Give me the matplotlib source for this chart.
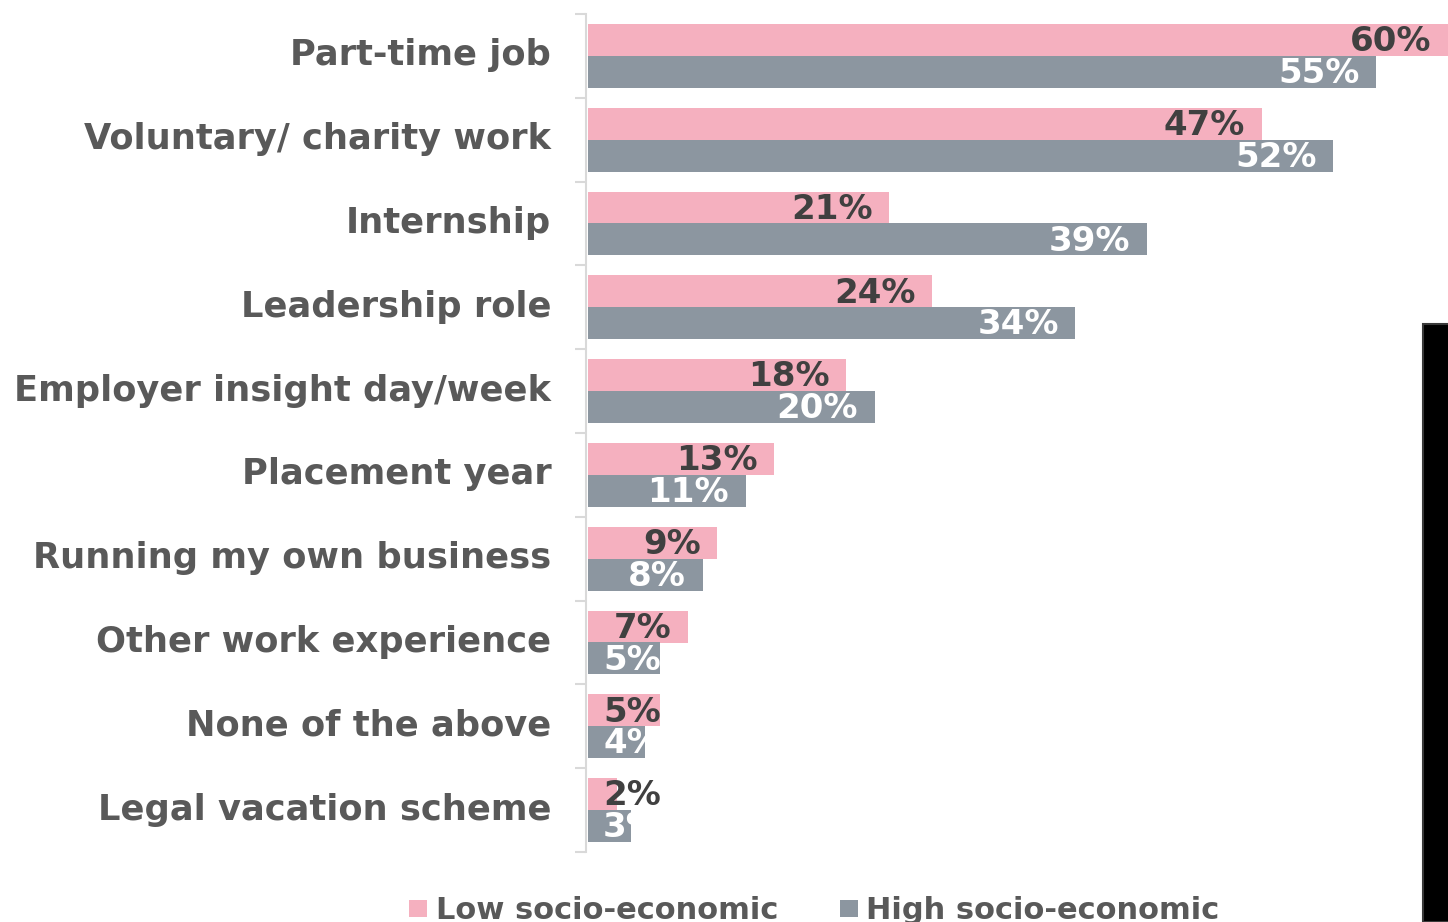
import matplotlib
matplotlib.use("Agg")
import matplotlib.pyplot as plt
from matplotlib.patches import Rectangle
from matplotlib.transforms import ScaledTranslation
import numpy as np

categorias = ["Part-time job", "Voluntary/ charity work", "Internship", "Leadership role",
              "Employer insight day/week", "Placement year", "Running my own business",
              "Other work experience", "None of the above", "Legal vacation scheme"]
baixa = [60, 47, 21, 24, 18, 13, 9, 7, 5, 2]
alta = [55, 52, 39, 34, 20, 11, 8, 5, 4, 3]

corRosa = "#F5B0BF"
corCinza = "#8C96A0"
corTexto = "#595959"
corValor = "#404040"

plt.rcParams["font.family"] = "DejaVu Sans"
plt.rcParams["font.weight"] = "bold"

W, H = 1448, 922
fig = plt.figure(figsize=(W / 100, H / 100), dpi=100)
ax = fig.add_axes([586 / W, (H - 852) / H, (W - 586) / W, (852 - 14) / H])

y = np.arange(len(categorias))
alt = 0.381
ax.barh(y - 0.19, baixa, height=alt, color=corRosa)
ax.barh(y + 0.19, alta, height=alt, color=corCinza)

ax.set_xlim(-0.14, 60.0)
ax.set_ylim(len(categorias) - 0.5, -0.5)

ax.set_yticks(y)
ax.set_yticklabels(categorias, fontsize=25.4, color=corTexto, fontweight="bold")
ax.tick_params(axis="y", which="major", length=0, pad=25)
ax.set_yticks(np.arange(-0.5, len(categorias)), minor=True)
ax.tick_params(axis="y", which="minor", length=8, width=1.5, color="#D9D9D9")
ax.xaxis.set_visible(False)
for lado in ["top", "right", "bottom"]:
    ax.spines[lado].set_visible(False)
ax.spines["left"].set_color("#D9D9D9")
ax.spines["left"].set_linewidth(1.5)

# sobe um pouco os nomes das categorias
desloca = ScaledTranslation(0, 0.04, fig.dpi_scale_trans)
for lbl in ax.get_yticklabels():
    lbl.set_transform(lbl.get_transform() + desloca)

# rótulos de valor: dentro da ponta da barra, mas sem passar do início
textos = []
for i in range(len(categorias)):
    t1 = ax.text(baixa[i] - 1.15, i - 0.17, f"{baixa[i]}%", ha="right", va="center",
                 fontsize=24.5, fontweight="bold", color=corValor)
    t2 = ax.text(alta[i] - 1.15, i + 0.21, f"{alta[i]}%", ha="right", va="center",
                 fontsize=24.5, fontweight="bold", color="white")
    textos.append(t1)
    textos.append(t2)

fig.canvas.draw()
inv = ax.transData.inverted()
for t in textos:
    bb = t.get_window_extent()
    esquerda = inv.transform((bb.x0, bb.y0))[0]
    if esquerda < 1.05:
        t.set_ha("left")
        t.set_x(1.05)

# legenda
fig.patches.append(Rectangle((409 / W, 5 / H), 18 / W, 17 / H, transform=fig.transFigure,
                             facecolor=corRosa, edgecolor="none"))
fig.text(436 / W, 3 / H, "Low socio-economic", fontsize=22, fontweight="bold",
         color=corTexto, va="baseline", ha="left")
fig.patches.append(Rectangle((840 / W, 5 / H), 18 / W, 17 / H, transform=fig.transFigure,
                             facecolor=corCinza, edgecolor="none"))
fig.text(866 / W, 3 / H, "High socio-economic", fontsize=22, fontweight="bold",
         color=corTexto, va="baseline", ha="left")

# faixa preta na borda direita
fig.patches.append(Rectangle((1423 / W, 0), 30 / W, (H - 324) / H, transform=fig.transFigure,
                             facecolor="black", edgecolor="#3A3A3A", linewidth=1.5))

fig.savefig("out.png", dpi=100)
